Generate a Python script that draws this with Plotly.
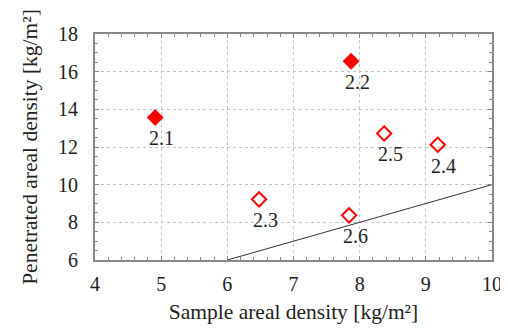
import plotly.graph_objects as go

# Data
labels_filled = ["2.1", "2.2"]
x_filled = [4.91, 7.87]
y_filled = [13.57, 16.55]

labels_open = ["2.3", "2.4", "2.5", "2.6"]
x_open = [6.48, 9.18, 8.37, 7.84]
y_open = [9.22, 12.12, 12.72, 8.37]

line_x = [6, 10]
line_y = [6, 10]

x_ticks = [4, 5, 6, 7, 8, 9, 10]
y_ticks = [6, 8, 10, 12, 14, 16, 18]

FONT = "Times New Roman"

fig = go.Figure()
fig.add_trace(go.Scatter(x=line_x, y=line_y, mode="lines",
                         line=dict(color="#333333", width=1), showlegend=False, hoverinfo="skip"))
fig.add_trace(go.Scatter(x=x_filled, y=y_filled, mode="markers",
                         marker=dict(symbol="diamond", size=13, color="#ff0000",
                                     line=dict(width=0)), showlegend=False))
fig.add_trace(go.Scatter(x=x_open, y=y_open, mode="markers",
                         marker=dict(symbol="diamond-open", size=11, color="#ff0000",
                                     line=dict(width=2, color="#ff0000")), showlegend=False))

annotations = []
for lx, ly, lt in zip(x_filled + x_open, y_filled + y_open, labels_filled + labels_open):
    annotations.append(dict(x=lx, y=ly, text=lt, showarrow=False, xshift=6, yshift=-21,
                            font=dict(family=FONT, size=20, color="#222222")))

axis_common = dict(
    showline=True, linecolor="#888888", linewidth=2, mirror="allticks",
    ticks="inside", ticklen=4, tickcolor="#888888",
    showgrid=True, gridcolor="#c4c4c4", griddash="dot", gridwidth=1,
    zeroline=False, automargin=False,
    tickfont=dict(family=FONT, size=20, color="#222222"),
)

# page body has an 8px default margin, so the figure is 8px smaller
fig.update_layout(
    width=500, height=321,
    margin=dict(l=87, r=16, t=26, b=69),
    plot_bgcolor="white", paper_bgcolor="white",
    font=dict(family=FONT, color="#222222"),
    xaxis=dict(range=[4, 10], tickvals=x_ticks, ticklabelstandoff=5,
               minor=dict(dtick=0.2, ticks="inside", ticklen=3, tickcolor="#888888", showgrid=False),
               title=dict(text="Sample areal density [kg/m²]", font=dict(family=FONT, size=21.5), standoff=10),
               **axis_common),
    yaxis=dict(range=[6, 18], tickvals=y_ticks, ticklabelstandoff=11,
               minor=dict(dtick=0.5, ticks="inside", ticklen=3, tickcolor="#888888", showgrid=False),
               title=dict(text="Penetrated areal density [kg/m²]", font=dict(family=FONT, size=21.5), standoff=14),
               **axis_common),
    annotations=annotations,
)

fig.write_html("out.html")
